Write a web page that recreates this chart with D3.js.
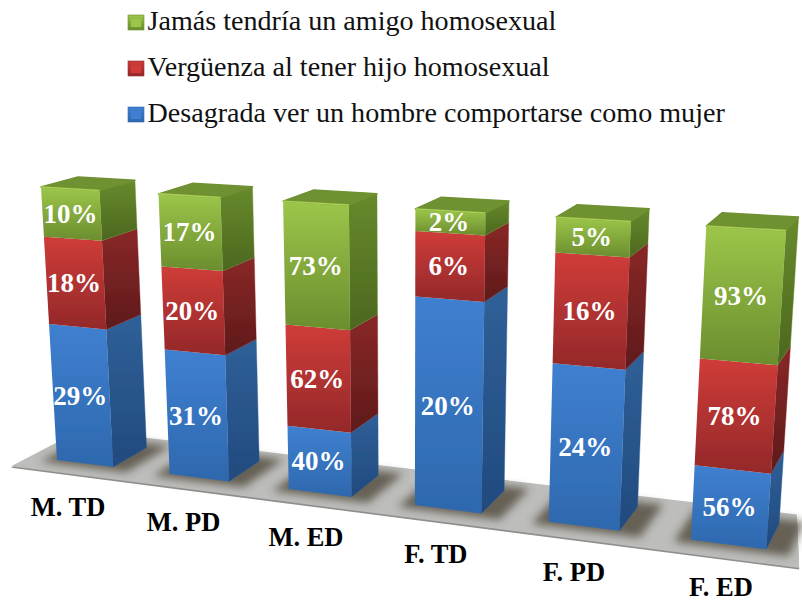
<!DOCTYPE html>
<html><head><meta charset="utf-8">
<script src="https://cdn.jsdelivr.net/npm/d3@7"></script>
<style>html,body{margin:0;padding:0;background:#fff}svg{display:block}text{font-family:"Liberation Serif",serif}</style>
</head><body><svg id="c" width="802" height="602"></svg>
<script>
const categories = ["M. TD","M. PD","M. ED","F. TD","F. PD","F. ED"];
const seriesNames = ["Desagrada ver un hombre comportarse como mujer","Vergüenza al tener hijo homosexual","Jamás tendría un amigo homosexual"];
const desagrada = [29,31,40,20,24,56];
const verguenza = [18,20,62,6,16,78];
const jamas = [10,17,73,2,5,93];
const seriesValues = [desagrada,verguenza,jamas];
const frontTop = ["#3f80d0","#cf3c38","#9cc64a"];
const frontBot = ["#2e68ae","#93282a","#6b8d2e"];
const sideTop = ["#2f6098","#8a2727","#678a2c"];
const sideBot = ["#214a7e","#5e1b1b","#4c671f"];
const topFace = ["#4a86d0","#c04040","#6f9132"];
const rimColor = "#a9d055";

const svg = d3.select("#c");
const defs = svg.append("defs");
function grad(id,a,b){const g=defs.append("linearGradient").attr("id",id).attr("x1",0).attr("y1",0).attr("x2",0).attr("y2",1);
  g.append("stop").attr("offset",0).attr("stop-color",a);g.append("stop").attr("offset",1).attr("stop-color",b);}
seriesNames.forEach((_,k)=>{grad("f"+k,frontTop[k],frontBot[k]);grad("s"+k,sideTop[k],sideBot[k]);});
defs.append("filter").attr("id","blur").attr("x","-30%").attr("y","-60%").attr("width","160%").attr("height","220%")
  .append("feGaussianBlur").attr("stdDeviation",4);
defs.append("filter").attr("id","soft").attr("x","-5%").attr("y","-5%").attr("width","110%").attr("height","110%")
  .append("feGaussianBlur").attr("stdDeviation",.55);

// Projective camera: s along the categories, h 0 = top of stack / 1 = floor, d depth
function project(s,h,d){
  const w=1-.0284*s+.0459*h+.0365*d;
  return [(41+113*s+18.6*h+39.85*d)/w,(187+1.38*s+294*h-3.54*d)/w];
}
const labelPoint=i=>{const w=1-.028*i;return [(68+110.4*i)/w,(508+.4*i)/w];};

const sScale=d3.scaleBand().domain(categories).range([0,5.505]).paddingInner(.495).paddingOuter(0);
const hScale=d3.scaleLinear().domain([0,1]).range([1,0]);
const rows=categories.map((c,i)=>{const r={cat:c};seriesNames.forEach((n,k)=>r[n]=seriesValues[k][i]);return r;});
const stacked=d3.stack().keys(seriesNames).offset(d3.stackOffsetExpand)(rows);
const line=d3.line();
const poly=p=>line(p)+"Z";
const u=sScale.bandwidth();

// floor
const fl=[project(-.25,1,-.5),project(-.25,1,1.45),project(5.59,1,1.45),project(5.76,1,-.5)];
svg.append("path").attr("d",poly(fl.map(p=>[p[0],p[1]+1.6]))).attr("fill","#8e8e8c").attr("filter","url(#soft)");
svg.append("path").attr("d",poly(fl)).attr("fill","#bdbdbb").attr("filter","url(#soft)");

// shadows
svg.append("g").selectAll("path").data(categories).join("path")
  .attr("d",c=>{const s=sScale(c);return poly([project(s-.1,1,-.15),project(s-.1,1,1.2),project(s+u+.16,1,1.2),project(s+u+.16,1,-.15)]);})
  .attr("fill","#453e2e").attr("opacity",.72).attr("filter","url(#blur)");

// bars
categories.forEach((c,i)=>{
  const s=sScale(c),g=svg.append("g").attr("filter","url(#soft)");
  stacked.forEach((ser,k)=>{
    const h0=hScale(ser[i][0]),h1=hScale(ser[i][1]);
    g.append("path").attr("d",poly([project(s+u,h1,0),project(s+u,h1,1),project(s+u,h0,1),project(s+u,h0,0)]))
      .attr("fill",`url(#s${k})`).attr("stroke",sideTop[k]).attr("stroke-width",.4);
    g.append("path").attr("d",poly([project(s,h1,0),project(s+u,h1,0),project(s+u,h0,0),project(s,h0,0)]))
      .attr("fill",`url(#f${k})`);
    if(k===stacked.length-1){
      g.append("path").attr("d",poly([project(s,h1,0),project(s,h1,1),project(s+u,h1,1),project(s+u,h1,0)]))
        .attr("fill",topFace[k]).attr("stroke",topFace[k]).attr("stroke-width",1.5).attr("stroke-linejoin","round");
      g.append("path").attr("d",line([project(s,h1,0),project(s+u,h1,0)]))
        .attr("fill","none").attr("stroke",rimColor).attr("stroke-width",1.6);
    }
  });
});

// value labels
stacked.forEach((ser,k)=>{
  svg.append("g").selectAll("text").data(ser).join("text")
    .each(function(d,i){
      const p=project(sScale(categories[i])+u/2,hScale((d[0]+d[1])/2),0);
      d3.select(this).attr("x",p[0]-1).attr("y",p[1]+9);
    })
    .attr("text-anchor","middle").attr("font-size",27).attr("font-weight","bold").attr("fill","#fff")
    .text((d,i)=>seriesValues[k][i]+"%");
});

// category labels (kept inside the picture's lower edge)
svg.append("g").selectAll("text").data(categories).join("text")
  .attr("x",(d,i)=>labelPoint(i)[0]).attr("y",(d,i)=>Math.min(labelPoint(i)[1]+7.5,595.5))
  .attr("text-anchor","middle").attr("font-size",26.5).attr("font-weight","bold").attr("fill","#000").text(d=>d);

// legend
const legendOrder=[2,1,0];
const legendY=d3.scalePoint().domain(legendOrder).range([30,122]);
const lg=svg.append("g").selectAll("g").data(legendOrder).join("g").attr("transform",k=>`translate(128,${legendY(k)})`);
lg.append("rect").attr("x",0).attr("y",-15).attr("width",16).attr("height",15).attr("fill",k=>`url(#f${k})`).attr("stroke",k=>frontBot[k]).attr("stroke-width",.6);
lg.append("rect").attr("x",3).attr("y",-11).attr("width",10).attr("height",8).attr("fill",k=>frontTop[k]);
lg.append("text").attr("x",19.5).attr("y",0).attr("font-size",28.1).attr("fill","#111").text(k=>seriesNames[k]);
</script></body></html>
